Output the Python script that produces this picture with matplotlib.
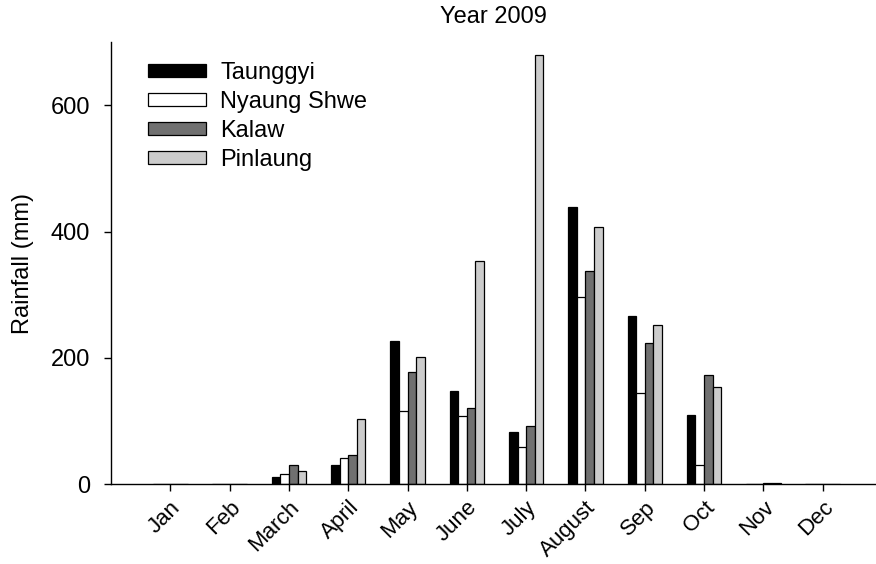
import numpy as np
import matplotlib
matplotlib.use("Agg")
import matplotlib.pyplot as plt

months = ["Jan", "Feb", "March", "April", "May", "June", "July",
          "August", "Sep", "Oct", "Nov", "Dec"]
stations = ["Taunggyi", "Nyaung Shwe", "Kalaw", "Pinlaung"]

# monthly rainfall (mm)
taunggyi = [0, 0, 12, 31, 227, 147, 82, 439, 267, 109, 0, 0]
nyaung_shwe = [0, 0, 16, 41, 116, 108, 59, 297, 145, 30, 0, 0]
kalaw = [0, 0, 30, 47, 177, 121, 93, 337, 224, 173, 2, 0]
pinlaung = [0, 0, 21, 104, 201, 354, 679, 407, 252, 154, 2, 0]

series = [taunggyi, nyaung_shwe, kalaw, pinlaung]
colors = ["black", "white", "#707070", "#cccccc"]

plt.rcParams["font.family"] = ["Liberation Sans", "DejaVu Sans"]
plt.rcParams["font.size"] = 17

fig = plt.figure(figsize=(8.76, 5.64), dpi=100)
ax = fig.add_axes([111 / 876, 1 - 484.3 / 564, 1 - 111 / 876, (484.3 - 42) / 564])

x = np.arange(len(months))
w = 0.145
for i, (vals, c, name) in enumerate(zip(series, colors, stations)):
    ax.bar(x + (i - 1.5) * w, vals, width=w, color=c, edgecolor="black",
           linewidth=0.9, label=name)

ax.set_xlim(-1.0, 11.9)
ax.set_ylim(0, 700)
ax.set_yticks([0, 200, 400, 600])
ax.set_xticks(x)
ax.set_xticklabels(months, rotation=45, ha="right", rotation_mode="anchor")
ax.tick_params(axis="both", direction="out", length=5, width=1, colors="black")
ax.tick_params(axis="x", pad=4, labelsize=16)
ax.tick_params(axis="y", pad=10, labelsize=17)
for s in ("top", "right"):
    ax.spines[s].set_visible(False)
for s in ("left", "bottom"):
    ax.spines[s].set_linewidth(1)

ax.set_ylabel("Rainfall (mm)", fontsize=17, labelpad=12)
fig.text(0.5 * (111 + 876) / 876, 1 - 17 / 564, "Year 2009", ha="center",
         va="center", fontsize=17)

ax.legend(loc="upper left", bbox_to_anchor=(148 / 876, 1 - 62 / 564),
          bbox_transform=fig.transFigure, frameon=False, borderpad=0,
          borderaxespad=0, handlelength=2.45, handleheight=0.47,
          handletextpad=0.6, labelspacing=0.3, fontsize=17)

fig.savefig("out.png", dpi=100)
